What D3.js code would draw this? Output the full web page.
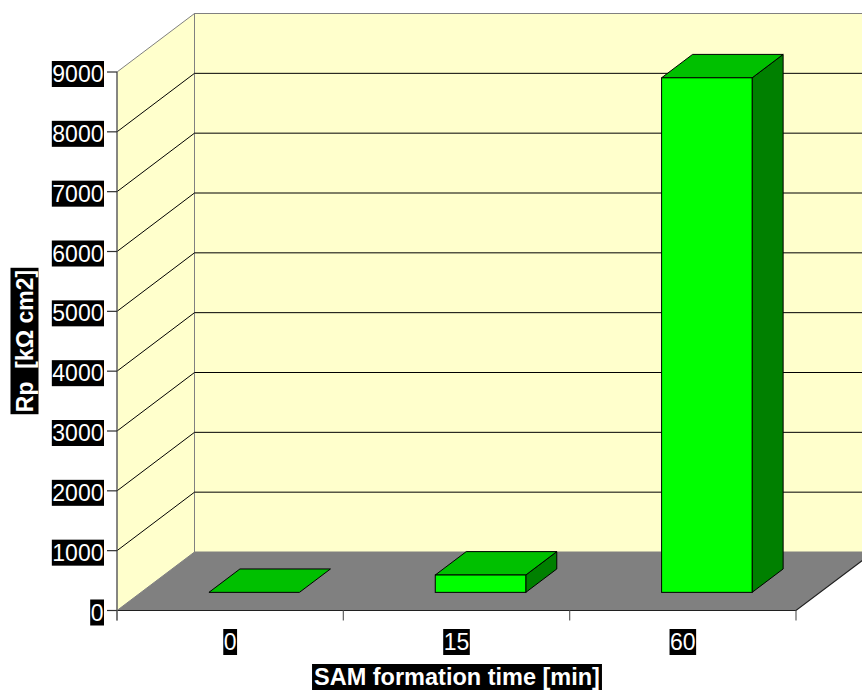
<!DOCTYPE html>
<html>
<head>
<meta charset="utf-8">
<script src="https://cdn.jsdelivr.net/npm/d3@7/dist/d3.min.js"></script>
<style>
  html, body { margin: 0; padding: 0; background: #fff; }
  svg { display: block; }
  text { font-family: "Liberation Sans", Arial, sans-serif; fill: #fff; }
</style>
</head>
<body>
<svg id="chart" width="862" height="692"></svg>
<script>
// Polarisation resistance vs. SAM formation time
const categories = ["0", "15", "60"];
const rpValues = [0, 290, 8600];
const yTicks = [0, 1000, 2000, 3000, 4000, 5000, 6000, 7000, 8000, 9000];
const xTitle = "SAM formation time [min]";
const yTitle = "Rp  [kΩ cm2]";

const svg = d3.select("#chart");
const W = 862, H = 692;

// Oblique 3D frame: front plane and depth offset
const frontLeft = 117, frontRight = 796;
const depthX = 77.5, depthY = -58.5;

const y = d3.scaleLinear().domain([0, 9000]).range([610.5, 72]);
const x = d3.scaleBand().domain(categories).range([frontLeft, frontRight])
  .paddingInner(0.6).paddingOuter(0.3);

const clip = svg.append("defs").append("clipPath").attr("id", "clipAll");
clip.append("rect").attr("x", 0).attr("y", 0).attr("width", W).attr("height", H);

const g = svg.append("g").attr("clip-path", "url(#clipAll)");

const y0 = y(0), yTop = y(9000);
const line = d3.line();

// Back wall
g.append("rect")
  .attr("x", frontLeft + depthX).attr("y", yTop + depthY)
  .attr("width", frontRight - frontLeft)
  .attr("height", y0 - yTop)
  .attr("fill", "#FFFFCC").attr("stroke", "#808080").attr("stroke-width", 1);

// Left wall
g.append("path")
  .attr("d", line([[frontLeft, yTop], [frontLeft + depthX, yTop + depthY],
                   [frontLeft + depthX, y0 + depthY], [frontLeft, y0]]) + "Z")
  .attr("fill", "#FFFFCC").attr("stroke", "#808080").attr("stroke-width", 1);

// Floor
g.append("path")
  .attr("d", line([[frontLeft, y0], [frontRight, y0],
                   [frontRight + depthX, y0 + depthY], [frontLeft + depthX, y0 + depthY]]) + "Z")
  .attr("fill", "#808080").attr("stroke", "none");
g.append("path")
  .attr("d", line([[frontLeft, y0], [frontRight, y0], [frontRight + depthX, y0 + depthY]]))
  .attr("fill", "none").attr("stroke", "#202020").attr("stroke-width", 1.2);

// Gridlines on left and back walls
yTicks.filter(v => v > 0 && v < 9000).forEach(v => {
  const yy = y(v);
  g.append("path")
    .attr("d", line([[frontLeft, yy], [frontLeft + depthX, yy + depthY], [frontRight + depthX, yy + depthY]]))
    .attr("fill", "none").attr("stroke", "#000").attr("stroke-width", 1);
});

// Bars (3D boxes)
const f0 = 0.31, f1 = 0.71;
const bw = x.bandwidth();
const bars = categories.map((c, i) => {
  const xf = x(c) + f0 * depthX;
  const yb = y(0) + f0 * depthY;
  const yt = y(rpValues[i]) + f0 * depthY;
  const ddx = (f1 - f0) * depthX, ddy = (f1 - f0) * depthY;
  return { xf, yb, yt, ddx, ddy, v: rpValues[i] };
});

const barG = g.append("g");
bars.forEach(b => {
  const x1 = b.xf + bw;
  // side
  if (b.v > 0) {
    barG.append("path")
      .attr("d", line([[x1, b.yt], [x1 + b.ddx, b.yt + b.ddy], [x1 + b.ddx, b.yb + b.ddy], [x1, b.yb]]) + "Z")
      .attr("fill", "#008000").attr("stroke", "#000").attr("stroke-width", 1).attr("stroke-linejoin", "round");
  }
  // top
  barG.append("path")
    .attr("d", line([[b.xf, b.yt], [b.xf + b.ddx, b.yt + b.ddy], [x1 + b.ddx, b.yt + b.ddy], [x1, b.yt]]) + "Z")
    .attr("fill", "#00C000").attr("stroke", "#000").attr("stroke-width", 1).attr("stroke-linejoin", "round");
  // front
  if (b.v > 0) {
    barG.append("rect")
      .attr("x", b.xf).attr("y", b.yt).attr("width", bw).attr("height", b.yb - b.yt)
      .attr("fill", "#00FF00").attr("stroke", "#000").attr("stroke-width", 1);
  }
});

// Value axis line and ticks
svg.append("line").attr("x1", frontLeft).attr("x2", frontLeft)
  .attr("y1", yTop).attr("y2", y0 + 10)
  .attr("stroke", "#606060").attr("stroke-width", 1.2);
yTicks.forEach(v => {
  svg.append("line").attr("x1", frontLeft - 10).attr("x2", frontLeft)
    .attr("y1", y(v)).attr("y2", y(v)).attr("stroke", "#303030").attr("stroke-width", 1.2);
});

// Category axis ticks
const catBounds = categories.map(c => x(c) - x.step() * x.paddingInner() / 2 + x.bandwidth() / 2 - x.step() / 2);
catBounds.push(frontRight);
catBounds[0] = frontLeft;
categories.forEach((c, i) => {
  const xb = frontLeft + i * x.step();
  catBounds[i] = xb;
});
catBounds.forEach(xb => {
  svg.append("line").attr("x1", xb).attr("x2", xb).attr("y1", y0).attr("y2", y0 + 10)
    .attr("stroke", "#606060").attr("stroke-width", 1.2);
});

// Text with black background boxes
function boxedText(parent, tx, ty, str, opts) {
  const grp = parent.append("g");
  const rect = grp.append("rect").attr("fill", "#000");
  const t = grp.append("text")
    .attr("x", tx).attr("y", ty)
    .attr("text-anchor", opts.anchor || "middle")
    .attr("dominant-baseline", "central")
    .style("font-size", opts.size + "px")
    .style("font-weight", opts.bold ? "bold" : "normal")
    .style("white-space", "pre")
    .text(str);
  if (opts.rotate) grp.attr("transform", `rotate(${opts.rotate},${tx},${ty})`);
  const bb = t.node().getBBox();
  const px = opts.padX || 0.5, py = opts.padY || 0;
  rect.attr("x", bb.x - px).attr("y", bb.y - py)
    .attr("width", bb.width + 2 * px).attr("height", bb.height + 2 * py);
  return grp;
}

const labelG = svg.append("g");
yTicks.forEach(v => {
  boxedText(labelG, 103.5, y(v) + 2, String(v), { size: 23, anchor: "end" });
});
categories.forEach(c => {
  boxedText(labelG, x(c) + bw / 2, 642, c, { size: 23 });
});

boxedText(labelG, 457, 677, xTitle, { size: 23.5, bold: true, padX: 2 });
boxedText(labelG, 24.5, 341, yTitle, { size: 23, bold: true, rotate: -90, padX: 2, padY: 1 });
</script>
</body>
</html>
